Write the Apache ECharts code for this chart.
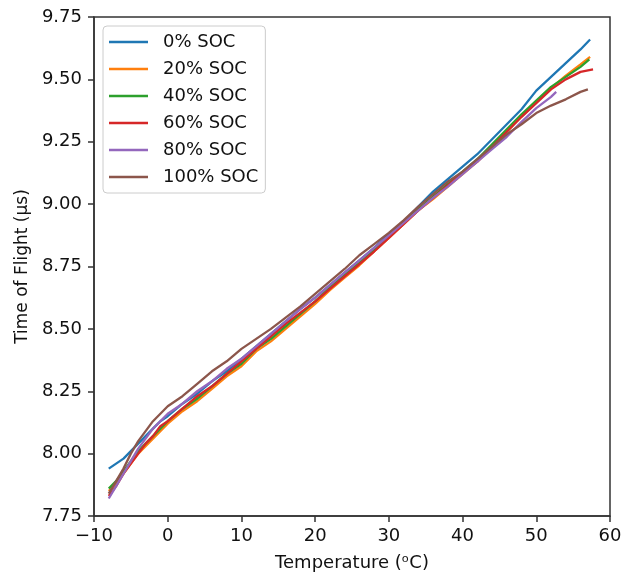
<!DOCTYPE html>
<html>
<head>
<meta charset="utf-8">
<script src="https://cdn.jsdelivr.net/npm/echarts@6/dist/echarts.min.js"></script>
<style>html,body{margin:0;padding:0;background:#fff}#c{width:634px;height:577px}</style>
</head>
<body>
<div id="c"></div>
<script>
const seriesNames = ['0% SOC', '20% SOC', '40% SOC', '60% SOC', '80% SOC', '100% SOC'];
const colors = ['#1f77b4', '#ff7f0e', '#2ca02c', '#d62728', '#9467bd', '#8c564b'];

const xTicks = [-10, 0, 10, 20, 30, 40, 50, 60];
const yTicks = [7.75, 8.00, 8.25, 8.50, 8.75, 9.00, 9.25, 9.50, 9.75];

// shared temperature grid (deg C)
const temps = [-8, -7, -6, -5, -4, -3, -2, -1, 0, 2, 4, 6, 8, 10, 12, 14, 16, 18, 20, 22, 24, 26, 28, 30, 32, 34, 36, 38, 40, 42, 44, 46, 48, 50, 52, 54, 56];

const soc0 = [7.94, 7.96, 7.98, 8.01, 8.04, 8.07, 8.10, 8.13, 8.15, 8.20, 8.24, 8.29, 8.33, 8.38, 8.43, 8.48, 8.53, 8.58, 8.625, 8.675, 8.725, 8.775, 8.825, 8.88, 8.93, 8.99, 9.05, 9.10, 9.15, 9.20, 9.26, 9.32, 9.38, 9.455, 9.51, 9.565, 9.62];
const soc20 = [7.85, 7.88, 7.92, 7.96, 8.00, 8.03, 8.06, 8.09, 8.12, 8.17, 8.21, 8.26, 8.31, 8.35, 8.41, 8.45, 8.50, 8.55, 8.60, 8.655, 8.705, 8.755, 8.81, 8.865, 8.92, 8.975, 9.02, 9.07, 9.12, 9.17, 9.23, 9.29, 9.35, 9.41, 9.465, 9.515, 9.56];
const soc40 = [7.86, 7.89, 7.93, 7.97, 8.01, 8.04, 8.07, 8.10, 8.13, 8.18, 8.22, 8.27, 8.32, 8.36, 8.42, 8.46, 8.51, 8.56, 8.61, 8.665, 8.715, 8.765, 8.815, 8.87, 8.925, 8.98, 9.03, 9.08, 9.13, 9.18, 9.24, 9.30, 9.36, 9.415, 9.47, 9.51, 9.55];
const soc60 = [7.83, 7.87, 7.92, 7.96, 8.00, 8.04, 8.07, 8.11, 8.13, 8.18, 8.23, 8.27, 8.32, 8.37, 8.42, 8.47, 8.52, 8.565, 8.61, 8.66, 8.71, 8.76, 8.81, 8.865, 8.92, 8.975, 9.025, 9.075, 9.125, 9.17, 9.23, 9.29, 9.35, 9.405, 9.46, 9.50, 9.53];
const soc80 = [7.82, 7.87, 7.92, 7.97, 8.02, 8.06, 8.10, 8.13, 8.16, 8.20, 8.25, 8.29, 8.34, 8.38, 8.43, 8.48, 8.53, 8.58, 8.625, 8.675, 8.725, 8.775, 8.825, 8.875, 8.925, 8.975, 9.025, 9.07, 9.12, 9.17, 9.22, 9.27, 9.33, 9.385, 9.43, null, null];
const soc100 = [7.84, 7.89, 7.94, 8.00, 8.05, 8.09, 8.13, 8.16, 8.19, 8.23, 8.28, 8.33, 8.37, 8.42, 8.46, 8.50, 8.545, 8.59, 8.64, 8.69, 8.74, 8.795, 8.84, 8.885, 8.935, 8.99, 9.04, 9.09, 9.13, 9.18, 9.23, 9.28, 9.32, 9.365, 9.395, 9.42, 9.45];

// last recorded point of each curve
const endTemps = [57.3, 57.3, 57.2, 57.7, 52.7, 57.0];
const endValues = [9.66, 9.59, 9.58, 9.54, 9.45, 9.46];

const allValues = [soc0, soc20, soc40, soc60, soc80, soc100];

const series = seriesNames.map((name, i) => {
  const pts = [];
  temps.forEach((t, j) => { if (allValues[i][j] != null) pts.push([t, allValues[i][j]]); });
  pts.push([endTemps[i], endValues[i]]);
  return {
    name: name,
    type: 'line',
    data: pts,
    symbol: 'none',
    smooth: false,
    lineStyle: { width: 2.3, color: colors[i] },
    itemStyle: { color: colors[i] },
    z: 2 + i
  };
});

const chart = echarts.init(document.getElementById('c'), null, { renderer: 'canvas' });
const font = 'DejaVu Sans';
chart.setOption({
  animation: false,
  backgroundColor: '#fff',
  grid: { left: 94, right: 24, top: 17, bottom: 56, show: true, borderColor: '#333', borderWidth: 1.5, backgroundColor: 'transparent' },
  legend: {
    orient: 'vertical',
    left: 103, top: 26,
    padding: [7, 7, 7, 6],
    icon: 'rect',
    itemWidth: 39, itemHeight: 2.5, itemGap: 9,
    backgroundColor: '#fff',
    borderColor: '#ccc', borderWidth: 1, borderRadius: 4,
    textStyle: { fontFamily: font, fontSize: 18, color: '#111', lineHeight: 18, padding: [0, 0, 0, 10] },
    data: seriesNames
  },
  xAxis: {
    type: 'value', min: -10, max: 60, interval: 10,
    name: 'Temperature (\u1d52C)',
    nameLocation: 'middle', nameGap: 38,
    nameTextStyle: { fontFamily: font, fontSize: 18, color: '#111' },
    axisLine: { show: true, onZero: false, lineStyle: { color: '#333', width: 1.5 } },
    axisTick: { show: true, inside: false, length: 6, lineStyle: { color: '#333', width: 1.5 } },
    axisLabel: { fontFamily: font, fontSize: 18, color: '#111', margin: 11, formatter: v => String(v).replace('-', '\u2212') },
    splitLine: { show: false }
  },
  yAxis: {
    type: 'value', min: 7.75, max: 9.75, interval: 0.25,
    name: 'Time of Flight (\u03bcs)',
    nameLocation: 'middle', nameGap: 62,
    nameTextStyle: { fontFamily: font, fontSize: 17, color: '#111' },
    axisLine: { show: true, onZero: false, lineStyle: { color: '#333', width: 1.5 } },
    axisTick: { show: true, inside: false, length: 6, lineStyle: { color: '#333', width: 1.5 } },
    axisLabel: { fontFamily: font, fontSize: 18, color: '#111', margin: 12, formatter: v => v.toFixed(2) },
    splitLine: { show: false }
  },
  series: series
});
</script>
</body>
</html>
